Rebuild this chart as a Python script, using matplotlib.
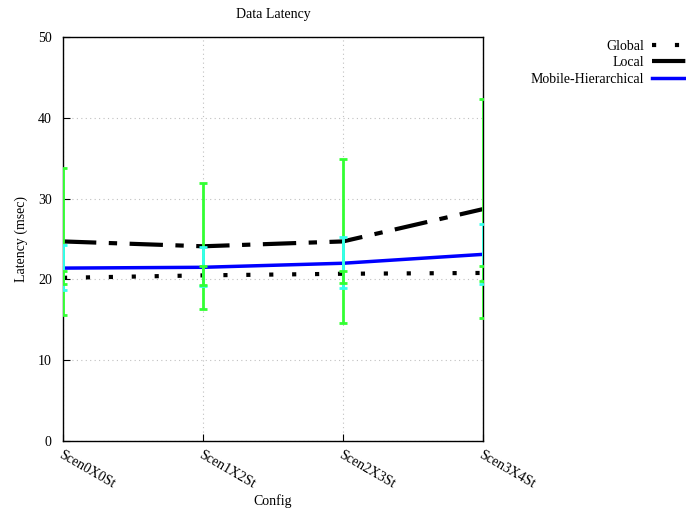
import numpy as np
import matplotlib
matplotlib.use("Agg")
import matplotlib.pyplot as plt

configs = ["Scen0X0St", "Scen1X2St", "Scen2X3St", "Scen3X4St"]

global_mean = [20.2, 20.5, 20.7, 20.8]
global_lo = [19.4, 19.3, 19.5, 19.8]
global_hi = [21.0, 21.6, 21.0, 21.6]

local_mean = [24.7, 24.1, 24.7, 28.7]
local_lo = [15.6, 16.4, 14.6, 15.2]
local_hi = [33.8, 31.9, 34.9, 42.3]

mobile_mean = [21.4, 21.5, 22.0, 23.1]
mobile_lo = [18.7, 19.2, 18.9, 19.4]
mobile_hi = [24.3, 24.0, 25.2, 26.8]

plt.rcParams['font.family'] = ['Liberation Serif', 'DejaVu Serif']

fig = plt.figure(figsize=(6.86, 5.16), dpi=100)
ax = fig.add_axes([0.0918, 0.1453, 0.6122, 0.7830])

x = np.arange(len(configs))

l1, = ax.plot(x, global_mean, color='black', lw=3, linestyle=(0, (1, 4.5)), label='Global', zorder=3)
l2, = ax.plot(x, local_mean, color='black', lw=3, linestyle=(0, (8, 3, 2, 3)), label='Local', zorder=3)
l3, = ax.plot(x, mobile_mean, color='#0000ff', lw=2.5, label='Mobile-Hierarchical', zorder=3)

def errs(mean, lo, hi):
    m = np.array(mean)
    return [m - np.array(lo), np.array(hi) - m]

ax.errorbar(x, local_mean, yerr=errs(local_mean, local_lo, local_hi), fmt='none',
            ecolor='#33ff33', elinewidth=2, capsize=3, capthick=2, zorder=4)
ax.errorbar(x, mobile_mean, yerr=errs(mobile_mean, mobile_lo, mobile_hi), fmt='none',
            ecolor='#33ffee', elinewidth=2, capsize=3, capthick=2, zorder=5)
ax.errorbar(x, global_mean, yerr=errs(global_mean, global_lo, global_hi), fmt='none',
            ecolor='#33ff33', elinewidth=2, capsize=3, capthick=2, zorder=6)

ax.set_xlim(0, 3)
ax.set_ylim(0, 50)
ax.set_xticks(x)
ax.set_xticklabels(configs, rotation=-30, ha='left', va='top', rotation_mode='anchor', fontsize=10)
ax.set_yticks(np.arange(0, 51, 10))
ax.tick_params(direction='in', labelsize=10, length=5)
ax.tick_params(axis='x', pad=5)
ax.tick_params(axis='y', pad=8)
ax.grid(True, color='#c0c0c0', linestyle=(0, (1, 3)), lw=0.8)
for s in ax.spines.values():
    s.set_linewidth(1)

ax.set_title('Data Latency', fontsize=10, pad=14)
ax.set_xlabel('Config', fontsize=10, labelpad=3)
ax.set_ylabel('Latency (msec)', fontsize=10, labelpad=7)

fig.legend(handles=[l1, l2, l3], loc='upper right', bbox_to_anchor=(1.04, 0.947),
           frameon=False, markerfirst=False, handlelength=3.5, fontsize=10,
           labelspacing=0.25, handletextpad=0.6)

fig.savefig('out.png', dpi=100)
